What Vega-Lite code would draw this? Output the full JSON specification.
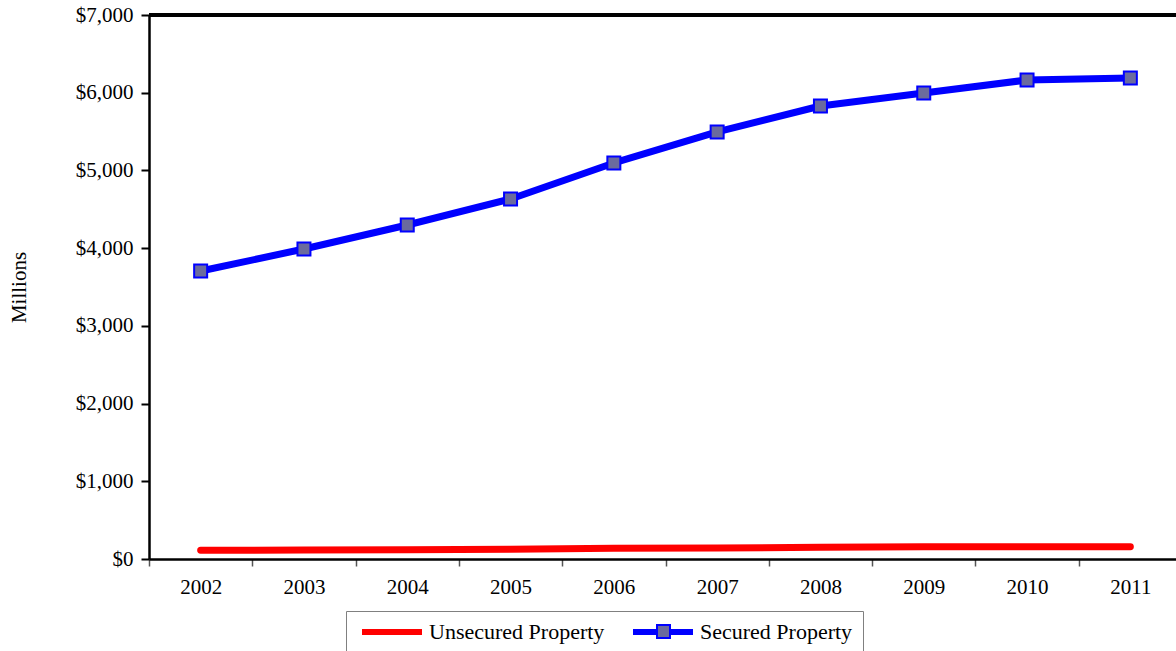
{
  "$schema": "https://vega.github.io/schema/vega-lite/v6.json",
  "autosize": "none",
  "width": 1027,
  "height": 544,
  "padding": {"left": 149, "top": 15, "right": 0, "bottom": 92},
  "background": "white",
  "config": {
    "view": {"stroke": null},
    "font": "Liberation Serif",
    "axis": {
      "grid": false,
      "domainColor": "black",
      "domainWidth": 2.5,
      "labelFont": "Liberation Serif",
      "labelFontSize": 21,
      "labelColor": "black",
      "titleFont": "Liberation Serif",
      "titleFontSize": 21,
      "titleFontWeight": "normal",
      "titleColor": "black"
    },
    "axisX": {"tickColor": "#555555", "tickWidth": 1.5, "tickSize": 7, "labelPadding": 10, "labelAngle": 0},
    "axisY": {"tickColor": "black", "tickWidth": 2, "tickSize": 8, "labelPadding": 8, "titlePadding": 46}
  },
  "data": {
    "values": [
      {"series": "Unsecured Property", "year": "2002", "value": 112},
      {"series": "Unsecured Property", "year": "2003", "value": 116},
      {"series": "Unsecured Property", "year": "2004", "value": 120},
      {"series": "Unsecured Property", "year": "2005", "value": 124},
      {"series": "Unsecured Property", "year": "2006", "value": 138},
      {"series": "Unsecured Property", "year": "2007", "value": 141},
      {"series": "Unsecured Property", "year": "2008", "value": 150},
      {"series": "Unsecured Property", "year": "2009", "value": 158},
      {"series": "Unsecured Property", "year": "2010", "value": 157},
      {"series": "Unsecured Property", "year": "2011", "value": 158},
      {"series": "Secured Property", "year": "2002", "value": 3706},
      {"series": "Secured Property", "year": "2003", "value": 3989},
      {"series": "Secured Property", "year": "2004", "value": 4298},
      {"series": "Secured Property", "year": "2005", "value": 4633},
      {"series": "Secured Property", "year": "2006", "value": 5096},
      {"series": "Secured Property", "year": "2007", "value": 5495},
      {"series": "Secured Property", "year": "2008", "value": 5829},
      {"series": "Secured Property", "year": "2009", "value": 5997},
      {"series": "Secured Property", "year": "2010", "value": 6164},
      {"series": "Secured Property", "year": "2011", "value": 6190}
    ]
  },
  "layer": [
    {
      "mark": {"type": "rule", "color": "black", "strokeWidth": 2.5},
      "encoding": {"y": {"datum": 7000, "type": "quantitative"}}
    },
    {
      "mark": {"type": "line", "strokeWidth": 7, "strokeCap": "round", "strokeJoin": "round"},
      "encoding": {
        "x": {
          "field": "year",
          "type": "ordinal",
          "title": null,
          "scale": {"type": "band", "paddingInner": 0, "paddingOuter": 0, "range": [0, 1033]},
          "axis": {"tickBand": "extent"}
        },
        "y": {
          "field": "value",
          "type": "quantitative",
          "title": "Millions",
          "scale": {"domain": [0, 7000], "nice": false},
          "axis": {"values": [0, 1000, 2000, 3000, 4000, 5000, 6000, 7000], "format": "$,.0f"}
        },
        "stroke": {
          "field": "series",
          "type": "nominal",
          "scale": {"domain": ["Unsecured Property", "Secured Property"], "range": ["#FF0000", "#0000FF"]},
          "legend": {
            "orient": "none",
            "legendX": 197,
            "legendY": 596,
            "direction": "horizontal",
            "title": null,
            "symbolType": "M-4,0H4",
            "symbolSize": 225,
            "symbolStrokeWidth": 6,
            "symbolOffset": 25,
            "labelFont": "Liberation Serif",
            "labelFontSize": 22,
            "labelColor": "black",
            "labelOffset": 26,
            "labelLimit": 400,
            "columnPadding": 16,
            "padding": 10,
            "strokeColor": "#808080",
            "zindex": 1
          }
        }
      }
    },
    {
      "transform": [{"filter": "datum.series === 'Secured Property'"}],
      "mark": {"type": "point", "shape": "square", "size": 169, "filled": true, "stroke": "#0000FF", "strokeWidth": 2, "opacity": 1},
      "encoding": {
        "x": {"field": "year", "type": "ordinal"},
        "y": {"field": "value", "type": "quantitative"},
        "fill": {
          "field": "series",
          "type": "nominal",
          "scale": {"domain": ["Secured Property"], "range": ["#6B6B9E"]},
          "legend": {
            "orient": "none",
            "legendX": 507,
            "legendY": 609,
            "title": null,
            "symbolType": "square",
            "symbolSize": 169,
            "symbolStrokeColor": "#0000FF",
            "symbolStrokeWidth": 2,
            "symbolOpacity": 1,
            "labelExpr": "''",
            "labelFontSize": 0,
            "labelOffset": 0,
            "padding": 0,
            "zindex": 2
          }
        }
      }
    }
  ]
}
